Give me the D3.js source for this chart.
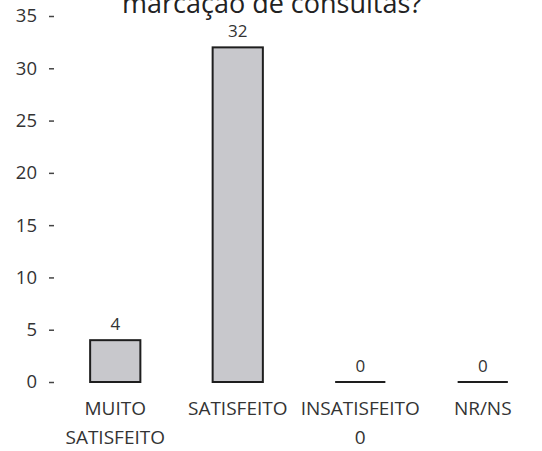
<!DOCTYPE html>
<html lang="pt">
<head>
  <meta charset="UTF-8">
  <title>marcação de consultas?</title>
  <style>
    body { margin: 0; background: #fff; }
    svg { display: block; font-family: "Open Sans", sans-serif; }
  </style>
</head>
<body>
<svg width="542" height="451"></svg>
<script src="https://d3js.org/d3.v7.min.js"></script>
<script>
  const categories = ["MUITO SATISFEITO", "SATISFEITO", "INSATISFEITO", "NR/NS"];
  const catLines = [["MUITO", "SATISFEITO"], ["SATISFEITO"], ["INSATISFEITO", "0"], ["NR/NS"]];
  const values = [4, 32, 0, 0];
  const yTicks = [0, 5, 10, 15, 20, 25, 30, 35];
  const title = "marcação de consultas?";

  const svg = d3.select("svg");
  const textColor = "#333";

  const x = d3.scaleBand()
    .domain(categories)
    .range([54, 544])
    .paddingInner(0.59)
    .paddingOuter(0.295);

  const y = d3.scaleLinear()
    .domain([0, 35])
    .range([382, 16]);

  // title, top part cut off like in the scan
  svg.append("text")
    .attr("x", 272)
    .attr("y", 13)
    .attr("text-anchor", "middle")
    .attr("font-size", "27px")
    .attr("fill", "#222")
    .text(title);

  // y axis: labels with small dash ticks, no axis line
  const yAxis = svg.append("g")
    .attr("transform", "translate(54,0)")
    .call(d3.axisLeft(y).tickValues(yTicks).tickSize(5).tickPadding(12));
  yAxis.select(".domain").remove();
  yAxis.selectAll(".tick line").attr("stroke", "#444").attr("stroke-width", 1.5);
  yAxis.selectAll(".tick text")
    .attr("font-size", "18.5px")
    .attr("font-family", "Open Sans, sans-serif")
    .attr("fill", textColor);

  const bw = x.bandwidth();

  // bars (non-zero values)
  svg.selectAll(".bar")
    .data(values.map((v, i) => ({ v, c: categories[i] })).filter(d => d.v > 0))
    .enter()
    .append("rect")
    .attr("class", "bar")
    .attr("x", d => x(d.c))
    .attr("y", d => y(d.v))
    .attr("width", bw)
    .attr("height", d => y(0) - y(d.v))
    .attr("fill", "#c8c8cc")
    .attr("stroke", "#1e1e1e")
    .attr("stroke-width", 2);

  // zero-valued bars collapse to a flat line
  svg.selectAll(".zero")
    .data(values.map((v, i) => ({ v, c: categories[i] })).filter(d => d.v === 0))
    .enter()
    .append("line")
    .attr("class", "zero")
    .attr("x1", d => x(d.c))
    .attr("x2", d => x(d.c) + bw)
    .attr("y1", y(0))
    .attr("y2", y(0))
    .attr("stroke", "#1e1e1e")
    .attr("stroke-width", 2);

  // value labels
  svg.selectAll(".val")
    .data(values)
    .enter()
    .append("text")
    .attr("class", "val")
    .attr("x", (d, i) => x(categories[i]) + bw / 2)
    .attr("y", d => y(d) - 10)
    .attr("text-anchor", "middle")
    .attr("font-size", "17px")
    .attr("fill", textColor)
    .text(d => d);

  // category labels
  const labels = svg.selectAll(".cat")
    .data(catLines)
    .enter()
    .append("text")
    .attr("class", "cat")
    .attr("text-anchor", "middle")
    .attr("font-size", "19px")
    .attr("fill", textColor);
  labels.selectAll("tspan")
    .data((d, i) => d.map(t => ({ t, i })))
    .enter()
    .append("tspan")
    .attr("x", d => x(categories[d.i]) + bw / 2)
    .attr("y", (d, j) => 415 + j * 29)
    .text(d => d.t);
</script>
</body>
</html>
